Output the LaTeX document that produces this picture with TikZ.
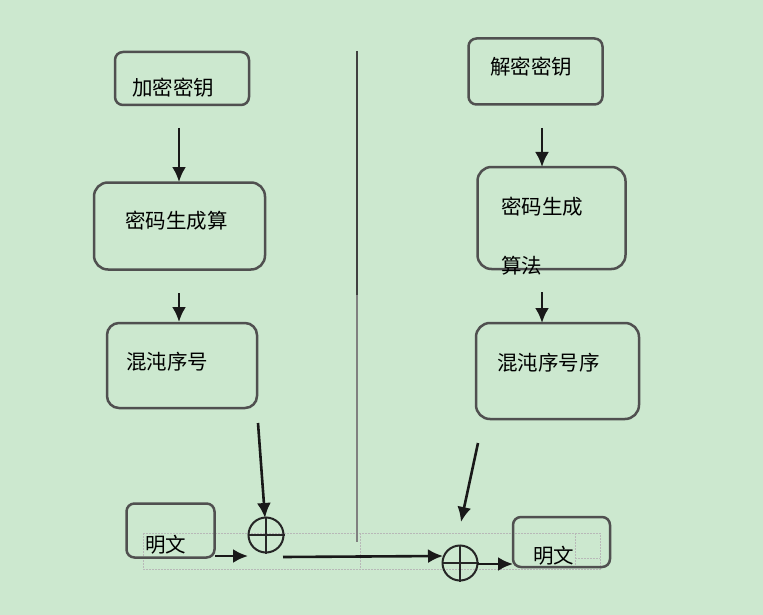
\documentclass[tikz,border=0pt]{standalone}
\usepackage{fontspec}
\newfontfamily\cjk{Noto Sans CJK SC}
\usetikzlibrary{arrows.meta}
\definecolor{bg}{HTML}{CCE8CF}
\definecolor{boxline}{HTML}{505050}
\definecolor{faint}{HTML}{B8B8B8}
\tikzset{
  box/.style={draw=boxline, line width=2.5pt, inner sep=0pt},
  lbl/.style={anchor=west, inner sep=0pt, font=\cjk\fontsize{20.5}{24}\selectfont, text=black},
  arr/.style={line width=2.6pt, draw=black!90, -{Latex[length=15pt,width=14pt]}},
  xorc/.style={circle, draw=black!85, line width=2pt, minimum size=35pt, inner sep=0pt},
  faintline/.style={draw=faint, line width=0.6pt, dash pattern=on 2pt off 1pt},
}
\begin{document}
\begin{tikzpicture}[x=1pt,y=-1pt]
\fill[bg] (0,0) rectangle (763,615);
\useasboundingbox (0,0) rectangle (763,615);

% faint text-box lines
\draw[faintline] (143,533) rectangle (600,569);
\draw[faintline] (360,533) -- (360,569);
\draw[faintline] (575,533) -- (575,569);
\draw[faintline] (575,558) -- (600,558);

% boxes
\node[box, rounded corners=8pt, minimum width=134pt, minimum height=53pt] (k1) at (182,78.5) {};
\node[box, rounded corners=14pt, minimum width=171pt, minimum height=87pt] (g1) at (179.5,226) {};
\node[box, rounded corners=12pt, minimum width=150pt, minimum height=85pt] (h1) at (182,365.5) {};
\node[box, rounded corners=8pt, minimum width=88pt, minimum height=54pt] (p1) at (170.5,530.5) {};

\node[box, rounded corners=8pt, minimum width=134pt, minimum height=66pt] (k2) at (535.5,71.5) {};
\node[box, rounded corners=14pt, minimum width=148pt, minimum height=102pt] (g2) at (551.5,218) {};
\node[box, rounded corners=14pt, minimum width=163pt, minimum height=96pt] (h2) at (557.5,371) {};
\node[box, rounded corners=8pt, minimum width=97pt, minimum height=50pt] (p2) at (561.5,542) {};

% labels
\node[lbl] (tk1) at (132,88) {加密密钥};
\node[lbl] (tg1) at (125,221) {密码生成算};
\node[lbl] (th1) at (126,362) {混沌序号};
\node[lbl] (tp1) at (145,545) {明文};
\node[lbl] (tk2) at (490,67) {解密密钥};
\node[lbl] (tg2a) at (501,207) {密码生成};
\node[lbl] (tg2b) at (501,266) {算法};
\node[lbl] (th2) at (497,363) {混沌序号序};
\node[lbl] (tp2) at (533,556) {明文};

% divider
\coordinate (v1) at (357,51);
\coordinate (v2) at (357,295);
\coordinate (v3) at (357,542);
\draw[line width=2.2pt, draw=black!75] (v1) -- (v2);
\draw[line width=2.2pt, draw=black!50] (v2) -- (v3);

% xor circles
\node[xorc] (x1) at (266,535) {};
\draw[draw=black!85, line width=2pt] (x1.north) -- (x1.south) (x1.west) -- (x1.east);
\node[xorc] (x2) at (460,563) {};
\draw[draw=black!85, line width=2pt] (x2.north) -- (x2.south) (x2.west) -- (x2.east);

% arrow endpoints
\coordinate (a1s) at (179,128); \coordinate (a1e) at (179,182);
\coordinate (a2s) at (179,293); \coordinate (a2e) at (179,322);
\coordinate (a3s) at (258,423); \coordinate (a3e) at (265,518);
\coordinate (a4s) at (215,556); \coordinate (a4e) at (248,556);
\coordinate (a5s) at (283,557); \coordinate (a5e) at (443,556);
\coordinate (b1s) at (542,128); \coordinate (b1e) at (542,167);
\coordinate (b2s) at (542,292); \coordinate (b2e) at (542,323);
\coordinate (b3s) at (478,443); \coordinate (b3e) at (461,522);
\coordinate (b4s) at (477,564); \coordinate (b4e) at (513,564);

\draw[arr] (a1s) -- (a1e);
\draw[arr] (a2s) -- (a2e);
\draw[arr] (a3s) -- (a3e);
\draw[arr] (a4s) -- (a4e);
\draw[arr] (a5s) -- (a5e);
\draw[arr] (b1s) -- (b1e);
\draw[arr] (b2s) -- (b2e);
\draw[arr] (b3s) -- (b3e);
\draw[arr] (b4s) -- (b4e);
\end{tikzpicture}
\end{document}
